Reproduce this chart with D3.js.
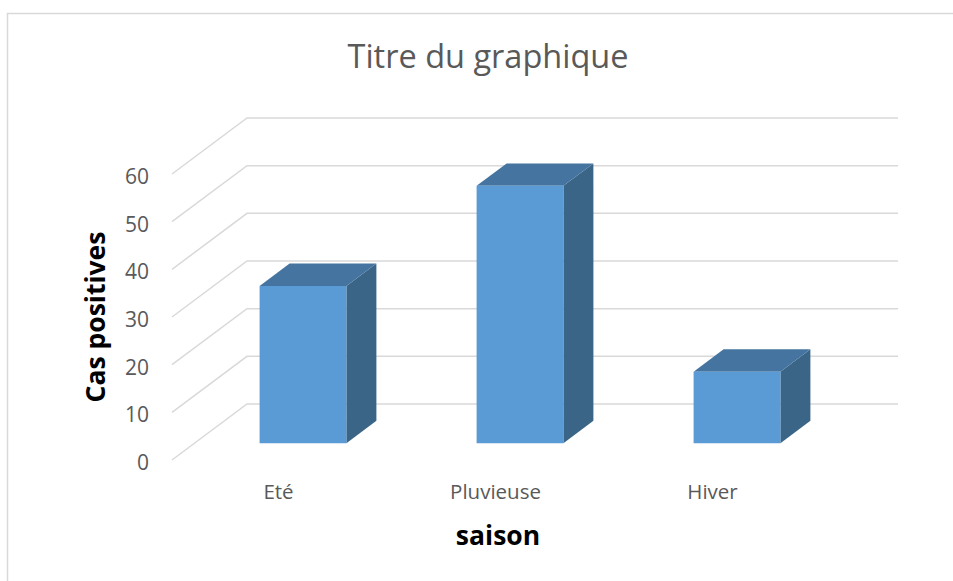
<!DOCTYPE html>
<html>
<head>
<meta charset="utf-8">
<script src="https://cdn.jsdelivr.net/npm/d3@7"></script>
<style>
  html, body { margin: 0; padding: 0; background: #fff; }
  svg { display: block; font-family: "Open Sans", "Noto Sans", sans-serif; }
</style>
</head>
<body>
<svg id="chart" width="953" height="581"></svg>
<script>
// Seasons and number of positive cases
const categories = ["Eté", "Pluvieuse", "Hiver"];
const values = [33, 54, 15];
const yTicks = [0, 10, 20, 30, 40, 50, 60];
const chartTitle = "Titre du graphique";
const xTitle = "saison";
const yTitle = "Cas positives";

const svg = d3.select("#chart");

// chart area frame
svg.append("rect")
  .attr("x", 7.5).attr("y", 13.5)
  .attr("width", 1000).attr("height", 600)
  .attr("fill", "#fff").attr("stroke", "#d9d9d9").attr("stroke-width", 1.5);

// oblique projection: depth 0 = front plane, 1 = back wall
const depthDX = 75, depthDY = -56;
const x = d3.scaleBand().domain(categories).range([172, 823])
  .paddingInner(0.6).paddingOuter(0.3);
const y = d3.scaleLinear().domain([0, 60]).range([460, 174]);
const proj = (px, v, d) => [px + d * depthDX, y(v) + d * depthDY];

const xLeft = x.range()[0], xRight = x.range()[1];

// gridlines: side wall diagonal + back wall horizontal
const grid = svg.append("g").attr("fill", "none")
  .attr("stroke", "#d9d9d9").attr("stroke-width", 1.5);
grid.selectAll("path").data(yTicks).join("path")
  .attr("d", v => d3.line()([proj(xLeft, v, 0), proj(xLeft, v, 1), proj(xRight, v, 1)]));

// value labels on the front-left edge
svg.append("g").selectAll("text").data(yTicks).join("text")
  .attr("x", 149).attr("y", v => y(v) + 2)
  .attr("text-anchor", "end").attr("dominant-baseline", "central")
  .attr("font-size", 21).attr("fill", "#595959")
  .text(d => d);

// 3D columns
const d0 = 0.3, d1 = 0.7;
const bars = svg.append("g").selectAll("g")
  .data(categories.map((c, i) => ({ c, v: values[i] }))).join("g");
const poly = pts => "M" + pts.map(p => p.join(",")).join("L") + "Z";

bars.append("path") // right side face
  .attr("fill", "#3a6587")
  .attr("d", d => {
    const xr = x(d.c) + x.bandwidth();
    return poly([proj(xr, 0, d0), proj(xr, d.v, d0), proj(xr, d.v, d1), proj(xr, 0, d1)]);
  });
bars.append("path") // top face
  .attr("fill", "#44749f")
  .attr("d", d => {
    const xl = x(d.c), xr = xl + x.bandwidth();
    return poly([proj(xl, d.v, d0), proj(xr, d.v, d0), proj(xr, d.v, d1), proj(xl, d.v, d1)]);
  });
bars.append("path") // front face
  .attr("fill", "#5b9bd5")
  .attr("d", d => {
    const xl = x(d.c), xr = xl + x.bandwidth();
    return poly([proj(xl, 0, d0), proj(xr, 0, d0), proj(xr, d.v, d0), proj(xl, d.v, d0)]);
  });

// category labels
svg.append("g").selectAll("text").data(categories).join("text")
  .attr("x", c => x(c) + x.bandwidth() / 2 - 2)
  .attr("y", 499)
  .attr("text-anchor", "middle")
  .attr("font-size", 20.5).attr("fill", "#595959")
  .text(d => d);

// titles
svg.append("text")
  .attr("x", 488).attr("y", 68)
  .attr("text-anchor", "middle")
  .attr("font-size", 32.5).attr("fill", "#595959")
  .text(chartTitle);

svg.append("text")
  .attr("x", 498).attr("y", 545)
  .attr("text-anchor", "middle")
  .attr("font-size", 26.5).attr("font-weight", "bold").attr("fill", "#000")
  .text(xTitle);

svg.append("text")
  .attr("transform", "translate(105,317) rotate(-90)")
  .attr("text-anchor", "middle")
  .attr("font-size", 26.5).attr("font-weight", "bold").attr("fill", "#000")
  .text(yTitle);
</script>
</body>
</html>
